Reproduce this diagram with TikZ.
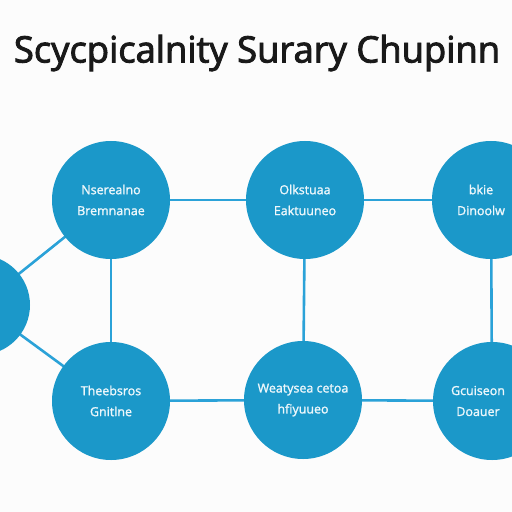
\documentclass[tikz,border=0pt]{standalone}
\usepackage{fontspec}
\setmainfont{Open Sans}
\newfontfamily\titlefont[FakeBold=2.6]{Open Sans}
\newfontfamily\tagfont[FakeBold=1.5]{Open Sans}
\usepackage{tikz}
\usetikzlibrary{positioning}
\definecolor{hubblue}{HTML}{1B98C9}
\definecolor{linkblue}{HTML}{2BA2D8}

\begin{document}
\begin{tikzpicture}[
  x=1bp, y=-1bp,
  hub/.style={circle, fill=hubblue, minimum size=118bp, inner sep=0pt},
  tag/.style={text=white!92!hubblue, align=center, font=\tagfont\fontsize{12.5}{21}\selectfont},
  link/.style={draw=linkblue, line width=2.6bp}
]
\useasboundingbox (0,0) rectangle (512,512);
\clip (0,0) rectangle (512,512);
\fill[white!98!gray] (0,0) rectangle (512,512);
\node[font=\titlefont\fontsize{36.5}{40}\selectfont, text=black!90] (title) at (257,53) {Scycpicalnity Surary Chupinn};
% links
\coordinate (tlc) at (111,200);
\coordinate (tmc) at (305,200);
\coordinate (trc) at (491,200);
\coordinate (blc) at (111,401);
\coordinate (bmc) at (303,400);
\coordinate (brc) at (492,401);
\coordinate (lfc) at (-20,305);
\draw[link] (tlc) -- (tmc) -- (trc);
\draw[link] (blc) -- (bmc) -- (brc);
\draw[link] (tlc) -- (blc);
\draw[link] (tmc) -- (bmc);
\draw[link] (trc) -- (brc);
\draw[link] (tlc) -- (lfc) -- (blc);
% circles
\node[hub] (tl) at (tlc) {};
\node[hub] (tm) at (tmc) {};
\node[hub] (tr) at (trc) {};
\node[hub] (bl) at (blc) {};
\node[hub] (bm) at (bmc) {};
\node[hub] (br) at (brc) {};
\node[hub, minimum size=100bp] (lf) at (lfc) {};
% texts
\node[tag] (tlt) at (tl) {Nserealno\\Bremnanae};
\node[tag] (tmt) at (tm) {Olkstuaa\\Eaktuuneo};
\node[tag] (trt) at ([xshift=-10bp]tr.center) {bkie\\Dinoolw};
\node[tag] (blt) at (bl) {Theebsros\\Gnitlne};
\node[tag] (bmt) at (bm) {Weatysea cetoa\\hfiyuueo};
\node[tag] (brt) at ([xshift=-14bp]br.center) {Gcuiseon\\Doauer};
\end{tikzpicture}
\end{document}
